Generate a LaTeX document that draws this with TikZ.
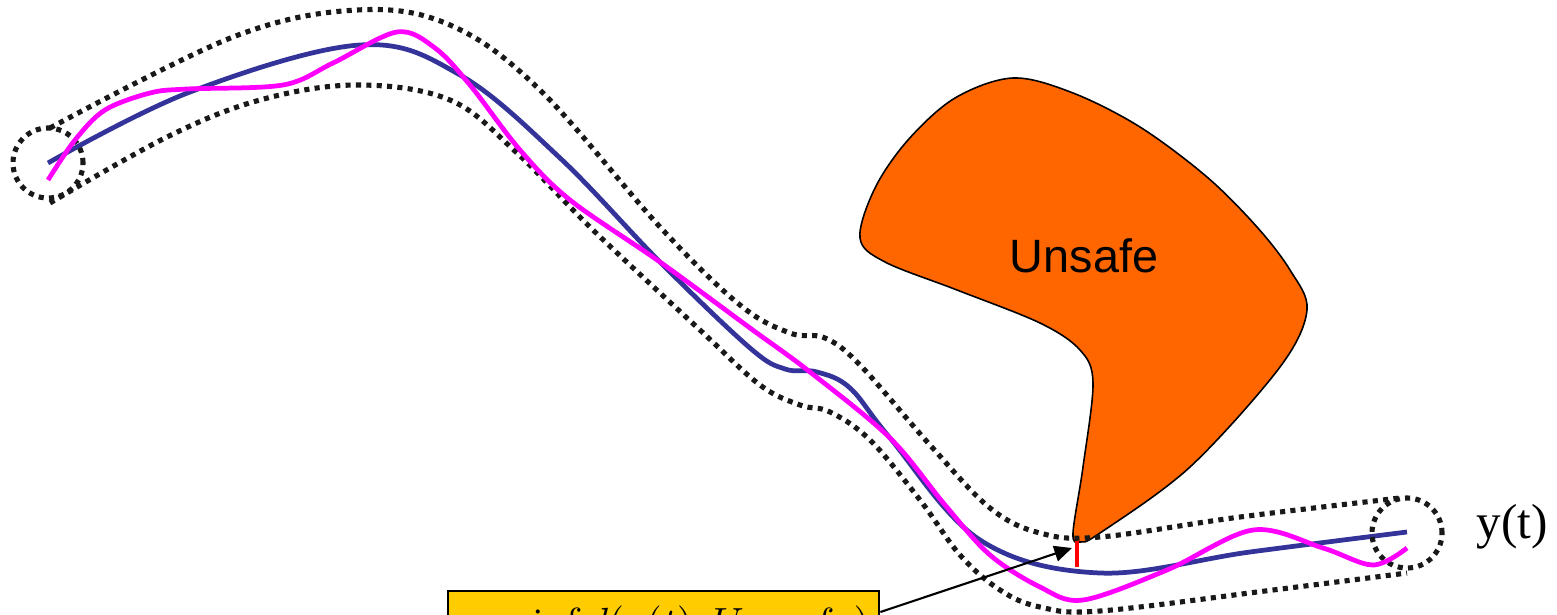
\documentclass[tikz,border=0pt]{standalone}
\usepackage{fontspec}
\newfontfamily\sansf{Liberation Sans}
\newfontfamily\seriff{Liberation Serif}
\usetikzlibrary{arrows.meta,calc}
\definecolor{traj}{RGB}{51,51,153}
\definecolor{mag}{RGB}{255,0,255}
\definecolor{unsafeorange}{RGB}{255,102,0}
\definecolor{boxgold}{RGB}{255,204,0}
\begin{document}
\begin{tikzpicture}[x=0.01cm,y=-0.01cm,
  tube/.style={line width=1.45pt, dash pattern=on 1.45pt off 1.5pt, black!90},
  nominal/.style={traj, line width=1.35pt},
  actual/.style={mag, line width=1.35pt},
  unsafeset/.style={fill=unsafeorange, draw=black, line width=0.45pt},
  distline/.style={red, line width=1.2pt},
  pointer/.style={-{Triangle[length=5pt,width=4.5pt]}, line width=0.6pt},
  eqbox/.style={draw=black, line width=0.6pt, fill=boxgold, anchor=north west,
    minimum width=4.31cm, inner xsep=0.05cm, inner ysep=0.145cm,
    font=\fontsize{12}{14}\selectfont}
]
\useasboundingbox (0,0) rectangle (1557,615);
\clip (0,0) rectangle (1557,615);

% unsafe set
\path[unsafeset] plot[smooth cycle, tension=0.55] coordinates {
  (1013,78) (1073,93) (1140,127) (1207,177) (1257,227) (1290,270) (1307,310)
  (1280,367) (1190,467) (1100,533) (1080,542) (1073,533) (1083,467) (1093,383)
  (1080,350) (1040,323) (957,290) (885,262) (860,238) (875,188) (908,140)
  (955,98)};
\node[font=\sansf\fontsize{13.3}{16}\selectfont] (unsafelbl) at (1084,256) {Unsafe};

% nominal trajectory
\draw[nominal] plot[smooth, tension=0.6] coordinates {
  (48,163) (190,92) (360,45) (460,75) (560,158) (660,262) (750,348)
  (785,369) (817,372) (850,388) (890,438) (980,540) (1100,573) (1250,552)
  (1407,532)};

% tube
\draw[tube] plot[smooth, tension=0.6] coordinates {
  (50,128) (233,37) (357,10) (450,25) (540,90) (660,227)
  (740,305) (790,333) (825,338) (860,365) (930,445) (990,508) (1040,533)
  (1100,537) (1240,517) (1400,498)};
\draw[tube] plot[smooth, tension=0.6] coordinates {
  (50,203) (167,137) (260,100) (357,85) (450,100) (517,153) (593,230)
  (700,330) (760,385) (800,405) (830,412) (870,440) (920,500) (960,555)
  (1000,590) (1040,607) (1100,611) (1273,590) (1407,573)};
\draw[tube] (48,163) circle[radius=0.35cm];
\draw[tube] (1407,533) circle[radius=0.35cm];

% actual trajectory
\draw[actual] plot[smooth, tension=0.55] coordinates {
  (48,180) (75,140) (105,110) (150,93) (187,89) (283,85) (333,63) (397,32)
  (435,48) (470,85) (520,150) (570,200) (660,262) (750,328)
  (810,372) (890,438) (945,505) (990,555) (1040,587) (1083,600) (1167,570)
  (1253,530) (1323,548) (1373,565) (1407,548)};

\node[font=\seriff\fontsize{14}{17}\selectfont] (ylbl) at (1512,527) {y(t)};

% distance
\coordinate (rtop) at (1077,541);
\coordinate (rbot) at (1077,567);
\draw[distline] (rtop) -- (rbot);

% equation box
\node[eqbox] (box) at (447,590) {$\varepsilon = \inf d(y(t), Unsafe)$};
\coordinate (tip) at (1072,548);
\draw[pointer] ([yshift=-0.22cm]box.north east) -- (tip);
\end{tikzpicture}
\end{document}
